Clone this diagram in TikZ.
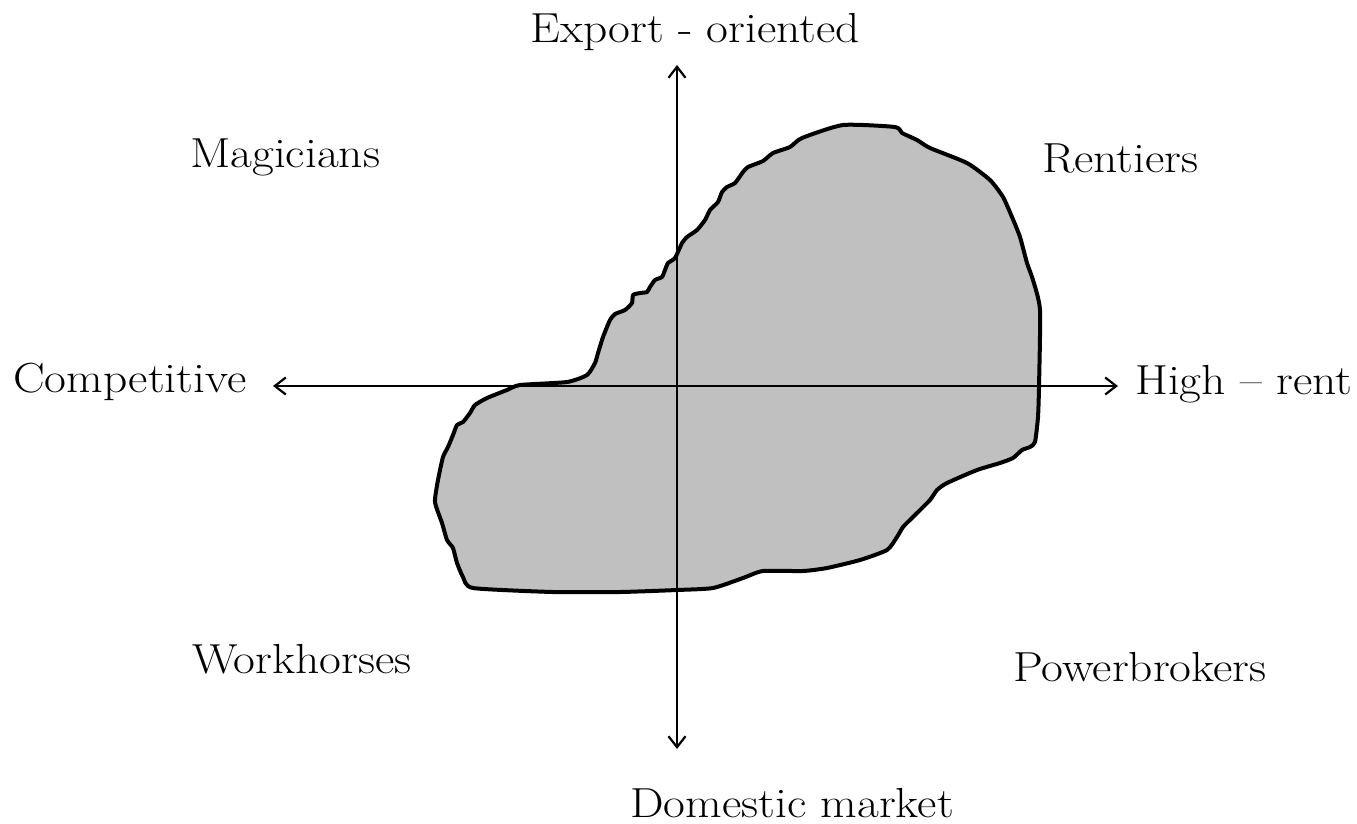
\documentclass[tikz,border=0pt]{standalone}
\usepackage{fontspec}
\newfontfamily\lblfont{Latin Modern Roman}[FakeStretch=1.13]
\usetikzlibrary{arrows.meta}
\definecolor{blobgray}{HTML}{C0C0C0}
\tikzset{
  lbl/.style={anchor=base west, inner sep=0pt, font=\lblfont\fontsize{42}{50}\selectfont},
  axis/.style={line width=2.2pt, {Straight Barb[length=11pt,width=17pt]}-{Straight Barb[length=11pt,width=17pt]}},
  blob/.style={fill=blobgray, draw=black, line width=4pt, line join=round}
}
\begin{document}
\begin{tikzpicture}[x=1pt,y=-1pt]
\useasboundingbox (0,0) rectangle (1357,823);
\draw[blob] plot[smooth cycle, tension=0.35] coordinates {
(473,588) (463,577) (457,563) (453,548) (447,540) (442,523) (435,502) (438,480) (443,457) (448,447) (453,435) (457,425) (463,422) (470,413) (475,405) (487,398) (507,390) (520,385) (567,382) (587,375) (595,363) (598,353) (603,337) (610,320) (615,314) (625,310) (632,303) (633,295) (640,293) (647,292) (650,287) (655,280) (662,277) (665,270) (668,263) (675,258) (682,243) (687,237) (697,230) (705,220) (710,210) (718,202) (722,192) (727,187) (735,183) (743,172) (748,167) (763,161) (773,153) (790,147) (802,138) (843,125) (895,127) (902,133) (917,140) (930,148) (967,163) (990,180) (1003,197) (1012,217) (1020,237) (1027,263) (1033,280) (1040,310) (1039,387) (1038,417) (1035,442) (1030,447) (1022,450) (1013,458) (1000,463) (977,470) (947,483) (937,490) (930,500) (913,517) (903,527) (897,537) (887,550) (860,560) (827,568) (803,571) (763,571) (743,578) (713,588) (677,590) (620,592) (553,592)};
\coordinate (top) at (677,65);
\coordinate (bottom) at (677,749);
\coordinate (left) at (273,386);
\coordinate (right) at (1118,386);
\draw[axis] (bottom) -- (top);
\draw[axis] (left) -- (right);
\node[lbl] (export) at (530,42) {Export - oriented};
\node[lbl] (magicians) at (190,167) {Magicians};
\node[lbl] (rentiers) at (1042,172) {Rentiers};
\node[lbl] (competitive) at (13,392) {Competitive};
\node[lbl] (highrent) at (1135,394) {High – rent};
\node[lbl] (workhorses) at (192,673) {Workhorses};
\node[lbl] (powerbrokers) at (1013,681) {Powerbrokers};
\node[lbl] (domestic) at (630,817) {Domestic market};
\end{tikzpicture}
\end{document}
